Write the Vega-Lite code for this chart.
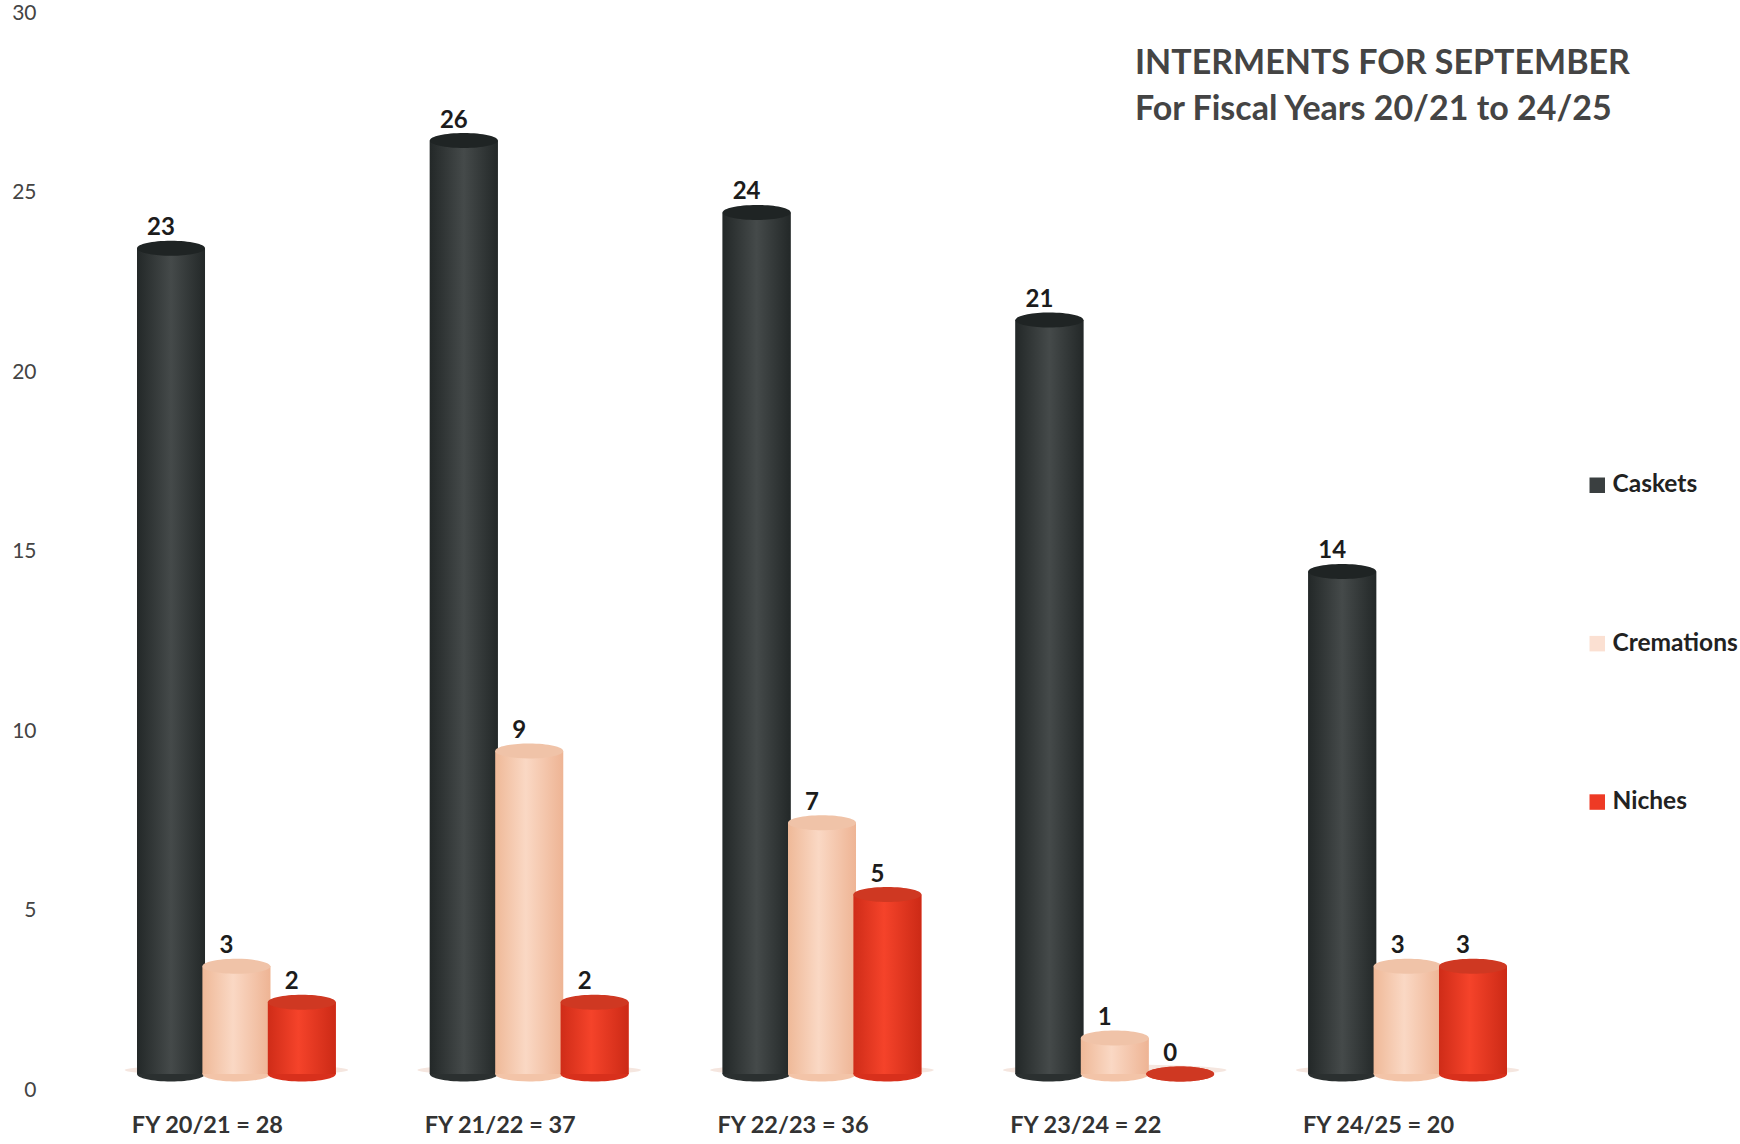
{"$schema":"https://vega.github.io/schema/vega-lite/v6.json","width":1464,"height":1077,"autosize":{"type":"none"},"padding":{"left":90,"top":13,"right":186,"bottom":54},"background":"white","view":{"stroke":null},
"title":{"text":["INTERMENTS FOR SEPTEMBER","For Fiscal Years 20/21 to 24/25"],"anchor":"start","frame":"group","orient":"top","baseline":"top","align":"left","dx":1045,"dy":125,"offset":0,"fontSize":34,"lineHeight":46,"font":"Lato","fontWeight":"bold","color":"#444444"},
"datasets":{"d":[
{"fy":"FY 20/21 = 28","series":"Caskets","value":23},{"fy":"FY 20/21 = 28","series":"Cremations","value":3},{"fy":"FY 20/21 = 28","series":"Niches","value":2},
{"fy":"FY 21/22 = 37","series":"Caskets","value":26},{"fy":"FY 21/22 = 37","series":"Cremations","value":9},{"fy":"FY 21/22 = 37","series":"Niches","value":2},
{"fy":"FY 22/23 = 36","series":"Caskets","value":24},{"fy":"FY 22/23 = 36","series":"Cremations","value":7},{"fy":"FY 22/23 = 36","series":"Niches","value":5},
{"fy":"FY 23/24 = 22","series":"Caskets","value":21},{"fy":"FY 23/24 = 22","series":"Cremations","value":1},{"fy":"FY 23/24 = 22","series":"Niches","value":0},
{"fy":"FY 24/25 = 20","series":"Caskets","value":14},{"fy":"FY 24/25 = 20","series":"Cremations","value":3},{"fy":"FY 24/25 = 20","series":"Niches","value":3}
]},
"data":{"name":"d"},
"encoding":{
"x":{"field":"fy","type":"nominal","title":null,"sort":null,"scale":{"paddingInner":0.33,"paddingOuter":0.165},"axis":{"domain":false,"ticks":false,"labelAngle":0,"labelOffset":-29,"labelPadding":23,"labelFontSize":23.5,"labelFont":"Lato","labelFontWeight":"bold","labelColor":"#333333"}},
"xOffset":{"field":"series","type":"nominal","sort":["Caskets","Cremations","Niches"],"scale":{"domain":["Caskets","Cremations","Niches"],"paddingInner":0,"paddingOuter":0}},
"y":{"field":"value","type":"quantitative","title":null,"scale":{"domain":[0,30],"nice":false},"axis":{"values":[0,5,10,15,20,25,30],"domain":false,"ticks":false,"grid":false,"labelPadding":54,"labelFontSize":21,"labelFont":"Lato","labelColor":"#444444"}}
},
"layer":[
{"transform":[{"filter":"datum.series==='Cremations'"}],"mark":{"type":"point","filled":true,"yOffset":-20,"size":50000,"shape":"M-1,0A1,0.05 0 1,0 1,0A1,0.05 0 1,0 -1,0Z","color":"#f5e6df","opacity":1},"encoding":{"y":{"datum":0}}},

{"mark":{"type":"bar","width":68,"yOffset":-16,"y2Offset":-16},"encoding":{"color":{"field":"series","type":"nominal","title":null,"scale":{"domain":["Caskets","Cremations","Niches"],"range":["#3a3f40","#fbe0d2","#ee3a25"]},"legend":{"orient":"none","legendX":1495,"legendY":460,"symbolType":"square","symbolSize":240,"labelFontSize":24.5,"labelFont":"Lato","labelFontWeight":"bold","labelColor":"#222222","rowPadding":133.4,"labelOffset":3}}}},

{"transform":[{"filter":"datum.series==='Caskets'"}],"mark":{"type":"point","filled":true,"yOffset":-16,"size":4624,"shape":"M-1,0A1,0.22 0 1,0 1,0A1,0.22 0 1,0 -1,0Z","color":"#2b3030","opacity":1},"encoding":{"y":{"datum":0}}},
{"transform":[{"filter":"datum.series==='Caskets'"}],"mark":{"type":"bar","width":68,"yOffset":-16,"y2Offset":-16,"color":{"gradient":"linear","x1":0,"x2":1,"y1":0,"y2":0,"stops":[{"offset":0,"color":"#232828"},{"offset":0.5,"color":"#454a4a"},{"offset":1,"color":"#232828"}]}}},
{"transform":[{"filter":"datum.series==='Caskets'"}],"mark":{"type":"point","filled":true,"yOffset":-16,"size":4624,"shape":"M-1,0A1,0.22 0 1,0 1,0A1,0.22 0 1,0 -1,0Z","color":"#1f2424","opacity":1}},

{"transform":[{"filter":"datum.series==='Cremations'"}],"mark":{"type":"point","filled":true,"yOffset":-16,"size":4624,"shape":"M-1,0A1,0.22 0 1,0 1,0A1,0.22 0 1,0 -1,0Z","color":"#f3c4a8","opacity":1},"encoding":{"y":{"datum":0}}},
{"transform":[{"filter":"datum.series==='Cremations'"}],"mark":{"type":"bar","width":68,"yOffset":-16,"y2Offset":-16,"color":{"gradient":"linear","x1":0,"x2":1,"y1":0,"y2":0,"stops":[{"offset":0,"color":"#efb998"},{"offset":0.45,"color":"#fad8c4"},{"offset":1,"color":"#eeb494"}]}}},
{"transform":[{"filter":"datum.series==='Cremations'"}],"mark":{"type":"point","filled":true,"yOffset":-16,"size":4624,"shape":"M-1,0A1,0.22 0 1,0 1,0A1,0.22 0 1,0 -1,0Z","color":"#f0c3a8","opacity":1}},

{"transform":[{"filter":"datum.series==='Niches'"}],"mark":{"type":"point","filled":true,"yOffset":-16,"size":4624,"shape":"M-1,0A1,0.22 0 1,0 1,0A1,0.22 0 1,0 -1,0Z","color":"#d8301c","opacity":1},"encoding":{"y":{"datum":0}}},
{"transform":[{"filter":"datum.series==='Niches'"}],"mark":{"type":"bar","width":68,"yOffset":-16,"y2Offset":-16,"color":{"gradient":"linear","x1":0,"x2":1,"y1":0,"y2":0,"stops":[{"offset":0,"color":"#cf2c18"},{"offset":0.45,"color":"#f5432a"},{"offset":1,"color":"#cc2a16"}]}}},
{"transform":[{"filter":"datum.series==='Niches'"}],"mark":{"type":"point","filled":true,"yOffset":-16,"size":4624,"shape":"M-1,0A1,0.22 0 1,0 1,0A1,0.22 0 1,0 -1,0Z","color":"#cf3822","opacity":1}},

{"mark":{"type":"text","font":"Lato","fontWeight":"bold","fontSize":24,"color":"#1c1c1c","dx":-10,"yOffset":-24,"baseline":"bottom","align":"center"},"encoding":{"text":{"field":"value","type":"quantitative"}}}
]}
